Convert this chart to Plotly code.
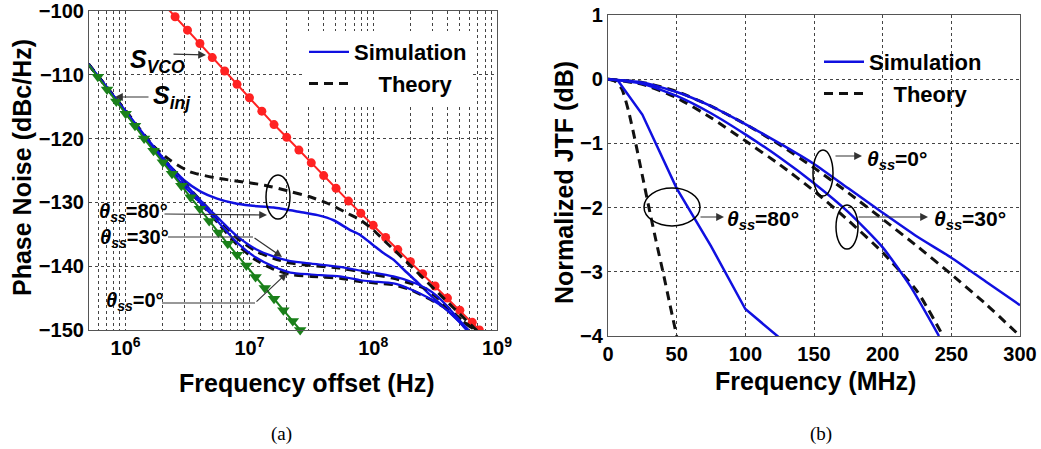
import plotly.graph_objects as go

W, H = 1041, 449

# ---------------- Panel (a) data: phase noise vs offset frequency ----------------
vco_freq = [2.0e6, 2.51e6, 3.16e6, 3.98e6, 5.01e6, 6.31e6, 7.94e6, 1.0e7, 1.26e7, 1.58e7,
            2.0e7, 2.51e7, 3.16e7, 3.98e7, 5.01e7, 6.31e7, 7.94e7, 1.0e8, 1.26e8,
            1.58e8, 2.0e8, 2.51e8, 3.16e8, 3.98e8, 5.01e8, 6.31e8, 7.2e8]
vco_pn = [-98.8, -100.9, -103.0, -105.1, -107.3, -109.4, -111.5, -113.6, -115.7, -117.8,
          -119.8, -121.8, -123.8, -125.8, -127.8, -129.8, -131.7, -133.6, -135.5,
          -137.4, -139.3, -141.2, -143.1, -145.0, -146.9, -148.8, -150.0]

inj_freq = [5.01e5, 5.96e5, 7.08e5, 8.41e5, 1.0e6, 1.19e6, 1.41e6, 1.68e6, 2.0e6, 2.37e6,
            2.82e6, 3.35e6, 3.98e6, 4.73e6, 5.62e6, 6.68e6, 7.94e6, 9.44e6, 1.12e7,
            1.33e7, 1.58e7, 1.88e7, 2.24e7, 2.57e7]
inj_pn = [-108.4, -110.3, -112.3, -114.2, -116.1, -118.0, -120.0, -121.9, -123.7, -125.5,
          -127.4, -129.2, -131.0, -132.9, -134.7, -136.5, -138.2, -139.9, -141.7,
          -143.4, -145.1, -146.9, -148.6, -150.0]

# theta_ss = 80 deg
th80_freq = [5.0e5, 7.08e5, 1.0e6, 1.26e6, 1.58e6, 2.29e6, 3.31e6, 5.5e6, 8.9e6, 1.32e7,
             2.14e7, 3.16e7, 4.47e7, 6.31e7, 7.94e7, 1.0e8, 1.26e8, 1.58e8, 2.0e8,
             2.51e8, 3.16e8, 3.98e8, 5.01e8, 6.31e8, 7.0e8]
th80_pn = [-108.3, -112.0, -115.6, -118.2, -120.7, -123.4, -125.2, -126.2, -126.8, -127.3,
           -128.3, -129.2, -130.3, -131.8, -132.8, -134.3, -136.2, -138.0, -139.9,
           -141.8, -143.7, -145.6, -147.5, -149.4, -150.2]
sim80_freq = [5.0e5, 7.08e5, 1.0e6, 1.26e6, 1.69e6, 2.31e6, 2.95e6, 4.03e6, 5.48e6, 7.46e6,
              1.02e7, 1.57e7, 2.57e7, 3.55e7, 4.79e7, 6.46e7, 7.85e7, 1.0e8, 1.2e8,
              1.46e8, 1.78e8, 2.24e8, 2.88e8, 3.72e8, 5.01e8, 5.7e8]
sim80_pn = [-108.3, -112.0, -115.7, -118.3, -121.8, -124.4, -126.5, -128.3, -129.4, -130.1,
            -130.5, -130.8, -131.5, -132.0, -132.8, -134.3, -135.1, -136.7, -137.9,
            -139.0, -140.6, -142.4, -144.5, -146.4, -148.8, -150.0]

# theta_ss = 30 deg
th30_freq = [5.0e5, 7.08e5, 1.0e6, 1.41e6, 2.0e6, 2.82e6, 3.98e6, 5.62e6, 7.94e6, 1.12e7,
             1.58e7, 2.14e7, 3.16e7, 5.37e7, 7.94e7, 1.0e8, 1.46e8, 2.0e8, 2.69e8,
             3.24e8, 3.98e8, 5.01e8, 6.31e8, 6.92e8]
th30_pn = [-108.3, -112.0, -115.7, -119.4, -123.0, -126.4, -129.6, -132.6, -135.6, -137.6,
           -138.8, -139.5, -139.9, -140.3, -140.9, -141.3, -141.9, -142.7, -143.6,
           -144.8, -146.4, -148.2, -149.7, -150.3]
sim30_freq = [5.0e5, 7.08e5, 1.0e6, 1.41e6, 2.0e6, 2.82e6, 3.98e6, 5.62e6, 7.94e6, 1.12e7,
              1.58e7, 2.14e7, 3.16e7, 5.37e7, 7.94e7, 1.0e8, 1.46e8, 2.0e8, 2.69e8,
              3.24e8, 3.98e8, 5.01e8, 5.89e8]
sim30_pn = [-108.3, -112.0, -115.7, -119.4, -123.0, -126.4, -129.6, -132.5, -135.3, -137.3,
            -138.5, -139.2, -139.6, -140.1, -140.7, -141.0, -141.6, -142.4, -143.5,
            -144.6, -146.3, -148.5, -150.0]

# theta_ss = 0 deg
th0_freq = [5.0e5, 7.08e5, 1.0e6, 1.41e6, 2.0e6, 2.82e6, 3.98e6, 5.62e6, 7.94e6, 1.12e7,
            1.58e7, 2.14e7, 3.16e7, 5.37e7, 7.94e7, 1.0e8, 1.46e8, 2.0e8, 2.69e8,
            3.72e8, 5.01e8, 6.61e8]
th0_pn = [-108.3, -112.1, -115.9, -119.7, -123.4, -127.0, -130.0, -133.3, -136.6, -139.0,
          -140.5, -141.3, -141.6, -141.9, -142.4, -142.6, -142.9, -143.7, -144.9,
          -146.4, -148.3, -150.0]
sim0_freq = [5.0e5, 7.08e5, 1.0e6, 1.41e6, 2.0e6, 2.82e6, 3.98e6, 5.62e6, 7.94e6, 1.12e7,
             1.58e7, 2.14e7, 3.16e7, 5.37e7, 7.94e7, 1.0e8, 1.46e8, 2.0e8, 2.69e8,
             3.72e8, 5.01e8, 5.69e8]
sim0_pn = [-108.3, -112.1, -115.9, -119.7, -123.4, -127.0, -130.0, -133.1, -136.3, -138.6,
           -140.1, -141.0, -141.3, -141.6, -142.2, -142.4, -142.7, -143.6, -144.8,
           -146.5, -148.8, -150.0]

# ---------------- Panel (b) data: normalized JTF ----------------
jtf_f = [0, 25, 50, 75, 100, 125, 150, 175, 200, 225, 250, 275, 300]
sim0_jtf = [0, -0.05, -0.2, -0.42, -0.7, -1.0, -1.32, -1.7, -2.08, -2.45, -2.78, -3.15, -3.52]
th0_jtf = [0, -0.05, -0.19, -0.42, -0.7, -1.02, -1.38, -1.77, -2.18, -2.6, -3.04, -3.5, -4.0]

f30 = [0, 25, 50, 75, 100, 125, 150, 175, 200, 220, 241]
sim30_jtf = [0, -0.07, -0.26, -0.53, -0.86, -1.22, -1.62, -2.07, -2.62, -3.22, -4.0]
t30 = [0, 25, 50, 75, 100, 125, 150, 175, 200, 225, 244]
th30_jtf = [0, -0.08, -0.29, -0.6, -0.96, -1.33, -1.74, -2.2, -2.7, -3.3, -4.0]

f80_sim = [6.5, 25, 50, 75, 100, 125]
sim80_jtf = [0, -0.55, -1.7, -2.6, -3.58, -4.03]
f80_th = [0, 5, 10, 15, 20, 25, 30, 35, 40, 45, 50]
th80_jtf = [0, -0.03, -0.15, -0.5, -0.98, -1.5, -2.02, -2.52, -3.0, -3.5, -4.0]

# tick labels
x1_tickvals = [1e6, 1e7, 1e8, 1e9]
x1_ticktext = ["10<sup>6</sup>", "10<sup>7</sup>", "10<sup>8</sup>", "10<sup>9</sup>"]

BLUE = "#1010e0"
BLACK = "#111111"
DASH = "9px,6px"
FONT = "Liberation Sans, Arial, sans-serif"

fig = go.Figure()

def add(x, y, xa, ya, color, dash=None, width=2.5, name=None, legend=None, show=False):
    fig.add_trace(go.Scatter(x=x, y=y, xaxis=xa, yaxis=ya, mode="lines",
                             line=dict(color=color, width=width, dash=dash, shape="spline", smoothing=0.6),
                             name=name, showlegend=show, legend=legend, hoverinfo="skip"))

# panel (a)
fig.add_trace(go.Scatter(x=vco_freq, y=vco_pn, xaxis="x", yaxis="y", mode="lines+markers",
                         line=dict(color="#ff2222", width=2),
                         marker=dict(symbol="circle", size=9, color="#ff2222"),
                         showlegend=False, hoverinfo="skip"))
add(th80_freq, th80_pn, "x", "y", BLACK, DASH, 3)
add(sim80_freq, sim80_pn, "x", "y", BLUE, None, 2.5)
add(th0_freq, th0_pn, "x", "y", BLACK, DASH, 3)
add(th30_freq, th30_pn, "x", "y", BLACK, DASH, 3)
add(sim0_freq, sim0_pn, "x", "y", BLUE, None, 2.2, "Simulation", "legend", True)
add(sim30_freq, sim30_pn, "x", "y", BLUE, None, 2.2)
fig.add_trace(go.Scatter(x=[None], y=[None], xaxis="x", yaxis="y", mode="lines",
                         line=dict(color=BLACK, width=3, dash=DASH),
                         name="\u00a0\u00a0\u00a0\u00a0Theory", legend="legend", showlegend=True))
fig.add_trace(go.Scatter(x=inj_freq, y=inj_pn, xaxis="x", yaxis="y", mode="lines+markers",
                         line=dict(color="#1a801a", width=2),
                         marker=dict(symbol="triangle-down", size=11, color="#1a801a"),
                         cliponaxis=False, showlegend=False, hoverinfo="skip"))

# panel (b)
add(jtf_f, th0_jtf, "x2", "y2", BLACK, DASH, 3)
add(t30, th30_jtf, "x2", "y2", BLACK, DASH, 3)
add(f80_th, th80_jtf, "x2", "y2", BLACK, DASH, 3)
add(jtf_f, sim0_jtf, "x2", "y2", BLUE, None, 2.5, "Simulation", "legend2", True)
add(f30, sim30_jtf, "x2", "y2", BLUE, None, 2.5)
fig.add_trace(go.Scatter(x=f80_sim, y=sim80_jtf, xaxis="x2", yaxis="y2", mode="lines",
                         line=dict(color=BLUE, width=2.5), showlegend=False, hoverinfo="skip"))
fig.add_trace(go.Scatter(x=[None], y=[None], xaxis="x2", yaxis="y2", mode="lines",
                         line=dict(color=BLACK, width=3, dash=DASH),
                         name="\u00a0\u00a0\u00a0\u00a0Theory", legend="legend2", showlegend=True))

def PX(p):
    return p / W

def PY(p):
    return 1 - p / H

minor_vals = [k * 10 ** d for d in range(5, 9) for k in range(2, 10) if 5.1e5 <= k * 10 ** d <= 9.9e8]

grid = dict(showgrid=True, gridcolor="#444", griddash="dot", gridwidth=1, zeroline=False,
            showline=True, linecolor="#555", linewidth=1.2, mirror=True, ticks="",
            automargin=False, ticklabeloverflow="allow",
            tickfont=dict(family=FONT, size=20, color="black", weight="bold"))

fig.update_layout(
    width=W, height=H, margin=dict(l=0, r=0, t=0, b=0, autoexpand=False),
    paper_bgcolor="white", plot_bgcolor="white",
    xaxis=dict(type="log", range=[5.704, 9.0], domain=[PX(89), PX(497)], anchor="y",
               tickvals=x1_tickvals, ticktext=x1_ticktext,
               minor=dict(tickvals=minor_vals, showgrid=True, gridcolor="#444", griddash="dot", gridwidth=1),
               **grid),
    yaxis=dict(range=[-150, -100], domain=[PY(330), PY(11)], anchor="x", dtick=10, **grid),
    xaxis2=dict(range=[0, 300], domain=[PX(608), PX(1020)], anchor="y2", dtick=50, **grid),
    yaxis2=dict(range=[-4, 1], domain=[PY(336), PY(15)], anchor="x2", dtick=1, **grid),
    legend=dict(x=PX(304), y=PY(31), xanchor="left", yanchor="top", bgcolor="white",
                font=dict(family=FONT, size=22, color="black", weight="bold"),
                itemwidth=40, tracegroupgap=0),
    legend2=dict(x=PX(819), y=PY(41), xanchor="left", yanchor="top", bgcolor="rgba(255,255,255,0)",
                 font=dict(family=FONT, size=22, color="black", weight="bold"),
                 itemwidth=40, tracegroupgap=0),
)

ann = []
def text(x, y, t, size=20, xanchor="center", family=FONT, angle=0, bold=True, italic=False):
    ann.append(dict(x=PX(x), y=PY(y), xref="paper", yref="paper", text=t, showarrow=False,
                    xanchor=xanchor, yanchor="middle", textangle=angle,
                    font=dict(family=family, size=size, color="black",
                              weight="bold" if bold else "normal",
                              style="italic" if italic else "normal")))

def arrow(x0, y0, x1, y1):
    ann.append(dict(x=PX(x1), y=PY(y1), xref="paper", yref="paper", text="", showarrow=True,
                    ax=x0 - x1, ay=y0 - y1, arrowhead=2, arrowsize=1.3, arrowwidth=1.2,
                    arrowcolor="#333"))

# axis titles
text(22, 168, "Phase Noise (dBc/Hz)", 25, angle=-90)
text(307, 383, "Frequency offset (Hz)", 25)
text(564, 183, "Normalized JTF (dB)", 25, angle=-90)
text(815, 381, "Frequency (MHz)", 25)
# captions
text(281, 434, "(a)", 19, family="Liberation Serif, Times New Roman, serif", bold=False)
text(821, 434, "(b)", 19, family="Liberation Serif, Times New Roman, serif", bold=False)

theta = lambda v: "<i>θ</i><sub><i>ss</i></sub>=" + v + "°"

# panel (a) annotations
text(128, 61, "<i>S</i><sub><i>VCO</i></sub>", 25, xanchor="left")
arrow(172, 54, 206, 55)
text(151, 97, "<i>S</i><sub><i>inj</i></sub>", 25, xanchor="left")
arrow(150, 97, 115, 97)
text(97, 212, theta("80"), 20, xanchor="left")
arrow(163, 214, 267, 215)
text(98, 238, theta("30"), 20, xanchor="left")
arrow(253, 237, 282, 257)
text(104, 301, theta("0"), 20, xanchor="left")
arrow(255, 303, 287, 273)

# panel (b) annotations
arrow(834, 156, 862, 156)
text(865, 160, theta("0"), 21, xanchor="left")
arrow(857, 217, 928, 217)
text(932, 220, theta("30"), 21, xanchor="left")
arrow(699, 217, 724, 217)
text(725, 220, theta("80"), 21, xanchor="left")

fig.update_layout(annotations=ann)

shapes = []
def ellipse(cx, cy, rx, ry):
    shapes.append(dict(type="circle", xref="paper", yref="paper",
                       x0=PX(cx - rx), x1=PX(cx + rx), y0=PY(cy + ry), y1=PY(cy - ry),
                       line=dict(color="black", width=1.5), layer="above"))
def hline(x0, x1, y):
    shapes.append(dict(type="line", xref="paper", yref="paper", x0=PX(x0), x1=PX(x1),
                       y0=PY(y), y1=PY(y), line=dict(color="#333", width=1.2), layer="above"))

ellipse(278, 197, 12, 22)
ellipse(823, 173, 10, 23)
ellipse(847, 227, 11, 22)
ellipse(672, 207, 28, 19)
hline(168, 253, 237)
hline(162, 255, 303)
fig.update_layout(shapes=shapes)

fig.write_html("out.html", config={"displayModeBar": False},
               post_script="document.body.style.margin='0px';document.body.style.overflow='hidden';")
